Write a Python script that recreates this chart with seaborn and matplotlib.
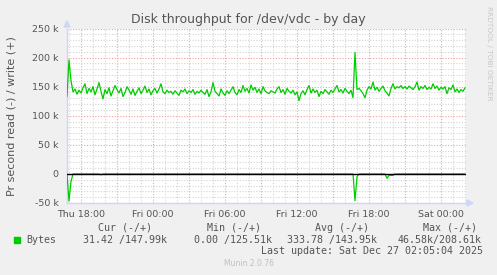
import matplotlib
matplotlib.use("Agg")
import matplotlib.pyplot as plt
import matplotlib.patches as mpatches
import numpy as np
import pandas as pd
import seaborn as sns

# ---------------- data ----------------
start_hour = 16 + 50 / 60.0          # Thu 16:50, hours since Thu 00:00
step_hours = 10 / 60.0               # 10-minute samples

write_k = [
    133, 196, 160, 141, 146, 137, 144, 139, 148, 155,
    138, 147, 141, 150, 136, 146, 157, 142, 129, 145,
    138, 148, 134, 143, 152, 145, 139, 147, 133, 140,
    150, 144, 137, 146, 135, 142, 148, 138, 144, 151,
    140, 146, 136, 143, 147, 139, 146, 155, 141, 138,
    144, 140, 142, 137, 143, 139, 135, 144, 141, 146,
    138, 143, 140, 145, 137, 142, 139, 144, 140, 137,
    145, 133, 141, 157, 142, 138, 134, 146, 139, 135,
    143, 138, 144, 150, 140, 136, 145, 140, 152, 142,
    147, 139, 153, 144, 149, 140, 146, 138, 150, 143,
    140, 138, 143, 141, 139, 146, 150, 140, 145, 137,
    147, 142, 139, 144, 136, 141, 126, 138, 143, 136,
    145, 152, 139, 146, 140, 144, 133, 142, 138, 145,
    141, 137, 144, 140, 146, 152, 141, 145, 139, 147,
    142, 138, 144, 131, 209, 145, 147, 143, 138, 131,
    144, 150, 146, 158, 144, 149, 142, 147, 151, 143,
    139, 134, 147, 155, 146, 150, 148, 152, 147, 150,
    146, 151, 148, 145, 150, 158, 144, 150, 147, 152,
    145, 149, 146, 155, 147, 151, 144, 149, 146, 150,
    138, 148, 145, 153, 141, 146, 140, 145, 142, 148,
]

read_k = [0.0] * len(write_k)
read_spikes = {1: 46.6, 2: 13.0, 17: 1.5, 144: 46.0, 145: 5.0,
               160: 7.5, 161: 2.5, 162: 2.5, 163: 2.5}
for idx, v in read_spikes.items():
    read_k[idx] = v

x_tick_hours = [18, 21, 24, 27, 30, 33, 36, 39, 42, 45, 48]
x_tick_labels = ["Thu 18:00", "", "Fri 00:00", "", "Fri 06:00", "",
                 "Fri 12:00", "", "Fri 18:00", "", "Sat 00:00"]
y_ticks = [-50000, 0, 50000, 100000, 150000, 200000, 250000]
y_tick_labels = ["-50 k", "0", "50 k", "100 k", "150 k", "200 k", "250 k"]

legend_header = ["Cur (-/+)", "Min (-/+)", "Avg (-/+)", "Max (-/+)"]
legend_values = ["31.42 /147.99k", "0.00 /125.51k", "333.78 /143.95k", "46.58k/208.61k"]
series_name = "Bytes"
title = "Disk throughput for /dev/vdc - by day"
ylabel = "Pr second read (-) / write (+)"
last_update = "Last update: Sat Dec 27 02:05:04 2025"

# ---------------- frame ----------------
n = len(write_k)
hours = [start_hour + i * step_hours for i in range(n)]
df = pd.DataFrame({
    "hour": hours * 2,
    "value": [v * 1000 for v in write_k] + [-v * 1000 for v in read_k],
    "series": ["write"] * n + ["read"] * n,
})

W, H = 497, 275
FONT = "#555555"
GREEN = "#00CC00"
AXISC = "#CFD6F8"

sns.set_style("white")
plt.rcParams["font.family"] = ["DejaVu Sans"]

fig = plt.figure(figsize=(W / 100, H / 100), dpi=100, facecolor="#F0F0F0")
ax = fig.add_axes([67 / W, 1 - 203 / H, 399 / W, (203 - 28.5) / H])
ax.set_facecolor("white")

sns.lineplot(data=df, x="hour", y="value", hue="series",
             palette={"write": GREEN, "read": GREEN}, legend=False,
             linewidth=0.9, ax=ax, zorder=3, estimator=None)
ax.axhline(0, color="black", linewidth=1.0, zorder=4)

x0 = start_hour
x1 = start_hour + 33.25
ax.set_xlim(x0, x1)
ax.set_ylim(-50000, 250000)

ax.set_xticks(x_tick_hours)
ax.set_xticklabels(x_tick_labels)
ax.set_xticks(np.arange(17, 51, 1), minor=True)
ax.set_yticks(y_ticks)
ax.set_yticklabels(y_tick_labels)
ax.set_yticks(np.arange(-40000, 250000, 10000), minor=True)

ax.grid(which="major", color="#F4A0A0", linestyle=(0, (1, 1.5)), linewidth=0.8, zorder=1)
ax.grid(which="minor", color="#D4D4D4", linestyle=(0, (1, 1.5)), linewidth=0.8, zorder=1)
ax.set_axisbelow(True)

ax.tick_params(which="both", length=0)
ax.tick_params(axis="x", pad=5, labelsize=6.8, colors=FONT)
ax.tick_params(axis="y", pad=6, labelsize=6.8, colors=FONT)
ax.set_xlabel("")
ax.set_ylabel("")

for s in ["top", "right"]:
    ax.spines[s].set_visible(False)
for s in ["left", "bottom"]:
    ax.spines[s].set_color(AXISC)
    ax.spines[s].set_linewidth(1.0)


def fx(x):
    return x / W


def fy(y):
    return 1 - y / H


# axis arrows
fig.patches.append(mpatches.Polygon(
    [(fx(64), fy(27)), (fx(70), fy(27)), (fx(67), fy(21))],
    closed=True, transform=fig.transFigure, color=AXISC, zorder=5))
fig.patches.append(mpatches.Polygon(
    [(fx(467), fy(200)), (fx(467), fy(206)), (fx(473), fy(203))],
    closed=True, transform=fig.transFigure, color=AXISC, zorder=5))

fig.text(0.5, fy(19), title, ha="center", va="center", fontsize=9, color=FONT)
fig.text(fx(12), fy(116), ylabel, ha="center", va="center", rotation=90,
         fontsize=8, color=FONT)
fig.text(fx(488.5), fy(53), "RRDTOOL / TOBI OETIKER", ha="center", va="center",
         rotation=270, fontsize=5.3, color="#C8C8C8")

mono = "DejaVu Sans Mono"
hdr_x = [98, 207, 315, 423]
for xx, t in zip(hdr_x, legend_header):
    fig.text(fx(xx), fy(228), t, ha="left", va="center", fontsize=7.2,
             family=mono, color=FONT)
fig.patches.append(mpatches.Rectangle(
    (fx(14), fy(242.5)), 5.5 / W, 5.5 / H, transform=fig.transFigure,
    color=GREEN, zorder=5))
fig.text(fx(26), fy(240), series_name, ha="left", va="center", fontsize=7.2,
         family=mono, color=FONT)
val_x = [83, 194, 287, 398]
for xx, t in zip(val_x, legend_values):
    fig.text(fx(xx), fy(240), t, ha="left", va="center", fontsize=7.2,
             family=mono, color=FONT)
fig.text(fx(483), fy(251), last_update, ha="right", va="center", fontsize=7.2,
         family=mono, color=FONT)
fig.text(0.5, fy(264), "Munin 2.0.76", ha="center", va="center", fontsize=5.5,
         color="#C0C0C0")

fig.savefig("out.png", dpi=100, facecolor=fig.get_facecolor())
